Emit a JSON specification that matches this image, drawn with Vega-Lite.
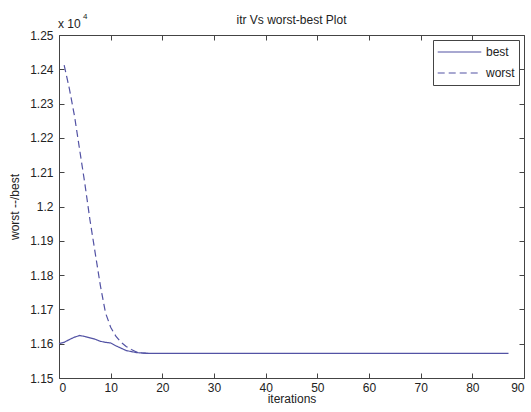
{
  "$schema": "https://vega.github.io/schema/vega-lite/v6.json",
  "width": 465,
  "height": 343,
  "autosize": {"type": "none"},
  "padding": {"left": 59, "top": 35, "right": 7, "bottom": 34},
  "background": "white",
  "title": {"text": "itr Vs worst-best Plot", "font": "Liberation Sans", "fontSize": 12, "fontWeight": "normal", "color": "#222222", "offset": 10, "dy": 24, "anchor": "middle", "frame": "group"},
  "config": {
    "view": {"stroke": null},
    "axis": {"grid": false, "domainColor": "#444444", "tickColor": "#444444", "labelFont": "Liberation Sans", "labelFontSize": 12, "labelColor": "#222222", "titleFont": "Liberation Sans", "titleFontSize": 12, "titleFontWeight": "normal", "titleColor": "#222222", "tickSize": -5}
  },
  "data": {"values": [
    {"iter": 0, "value": 11600, "series": "best"},
    {"iter": 1, "value": 11604, "series": "best"},
    {"iter": 2, "value": 11612, "series": "best"},
    {"iter": 3, "value": 11619, "series": "best"},
    {"iter": 4, "value": 11624, "series": "best"},
    {"iter": 5, "value": 11621, "series": "best"},
    {"iter": 6, "value": 11617, "series": "best"},
    {"iter": 7, "value": 11613, "series": "best"},
    {"iter": 8, "value": 11607, "series": "best"},
    {"iter": 9, "value": 11604, "series": "best"},
    {"iter": 10, "value": 11602, "series": "best"},
    {"iter": 11, "value": 11594, "series": "best"},
    {"iter": 12, "value": 11587, "series": "best"},
    {"iter": 13, "value": 11580, "series": "best"},
    {"iter": 14, "value": 11577, "series": "best"},
    {"iter": 15, "value": 11574, "series": "best"},
    {"iter": 16, "value": 11573, "series": "best"},
    {"iter": 17, "value": 11572, "series": "best"},
    {"iter": 30, "value": 11572, "series": "best"},
    {"iter": 45, "value": 11572, "series": "best"},
    {"iter": 60, "value": 11572, "series": "best"},
    {"iter": 75, "value": 11572, "series": "best"},
    {"iter": 87, "value": 11572, "series": "best"},
    {"iter": 1, "value": 12412, "series": "worst"},
    {"iter": 2, "value": 12344, "series": "worst"},
    {"iter": 3, "value": 12264, "series": "worst"},
    {"iter": 4, "value": 12165, "series": "worst"},
    {"iter": 5, "value": 12067, "series": "worst"},
    {"iter": 6, "value": 11960, "series": "worst"},
    {"iter": 7, "value": 11865, "series": "worst"},
    {"iter": 8, "value": 11770, "series": "worst"},
    {"iter": 9, "value": 11690, "series": "worst"},
    {"iter": 10, "value": 11648, "series": "worst"},
    {"iter": 11, "value": 11622, "series": "worst"},
    {"iter": 12, "value": 11604, "series": "worst"},
    {"iter": 13, "value": 11592, "series": "worst"},
    {"iter": 14, "value": 11583, "series": "worst"},
    {"iter": 15, "value": 11576, "series": "worst"},
    {"iter": 16, "value": 11573, "series": "worst"},
    {"iter": 17, "value": 11572, "series": "worst"},
    {"iter": 18, "value": 11572, "series": "worst"}
  ]},
  "resolve": {"axis": {"x": "independent", "y": "independent"}},
  "layer": [
    {
      "mark": {"type": "line", "strokeWidth": 1.2},
      "encoding": {
        "x": {"field": "iter", "type": "quantitative", "scale": {"domain": [0, 90], "nice": false}, "axis": {"orient": "bottom", "values": [0, 10, 20, 30, 40, 50, 60, 70, 80, 90], "title": "iterations", "labelPadding": 9, "titlePadding": 0}},
        "y": {"field": "value", "type": "quantitative", "scale": {"domain": [11500, 12500], "nice": false, "zero": false}, "axis": {"orient": "left", "values": [11500, 11600, 11700, 11800, 11900, 12000, 12100, 12200, 12300, 12400, 12500], "labelExpr": "format(datum.value/10000, '.2~f')", "title": "worst --/best", "labelPadding": 11, "titlePadding": 8}},
        "color": {"field": "series", "type": "nominal", "scale": {"domain": ["best", "worst"], "range": ["#5252a4", "#5252a4"]}, "legend": {"title": null, "orient": "top-right", "offset": 5, "symbolType": "stroke", "symbolSize": 1900, "symbolStrokeWidth": 1.2, "labelFont": "Liberation Sans", "labelFontSize": 12, "labelColor": "#222222", "labelOffset": 4, "fillColor": "white", "strokeColor": "#444444", "padding": 4, "clipHeight": 16, "rowPadding": 5}},
        "strokeDash": {"field": "series", "type": "nominal", "scale": {"domain": ["best", "worst"], "range": [[1, 0], [7, 4]]}, "legend": {"title": null}}
      }
    },
    {
      "mark": {"type": "point", "opacity": 0},
      "encoding": {
        "x": {"field": "iter", "type": "quantitative", "axis": {"orient": "top", "values": [0, 10, 20, 30, 40, 50, 60, 70, 80, 90], "labels": false, "title": null, "minExtent": 0, "maxExtent": 0}},
        "y": {"field": "value", "type": "quantitative", "axis": {"orient": "right", "values": [11500, 11600, 11700, 11800, 11900, 12000, 12100, 12200, 12300, 12400, 12500], "labels": false, "title": null, "minExtent": 0, "maxExtent": 0}}
      }
    },
    {
      "data": {"values": [{"label": "x 10"}]},
      "mark": {"type": "text", "align": "left", "baseline": "alphabetic", "dx": -1, "dy": -7, "font": "Liberation Sans", "fontSize": 12, "color": "#222222"},
      "encoding": {"text": {"field": "label"}, "x": {"datum": 0, "type": "quantitative", "axis": null}, "y": {"datum": 12500, "type": "quantitative", "axis": null}}
    },
    {
      "data": {"values": [{"label": "4"}]},
      "mark": {"type": "text", "align": "left", "baseline": "alphabetic", "dx": 24, "dy": -16, "font": "Liberation Sans", "fontSize": 8, "color": "#222222"},
      "encoding": {"text": {"field": "label"}, "x": {"datum": 0, "type": "quantitative", "axis": null}, "y": {"datum": 12500, "type": "quantitative", "axis": null}}
    }
  ]
}
